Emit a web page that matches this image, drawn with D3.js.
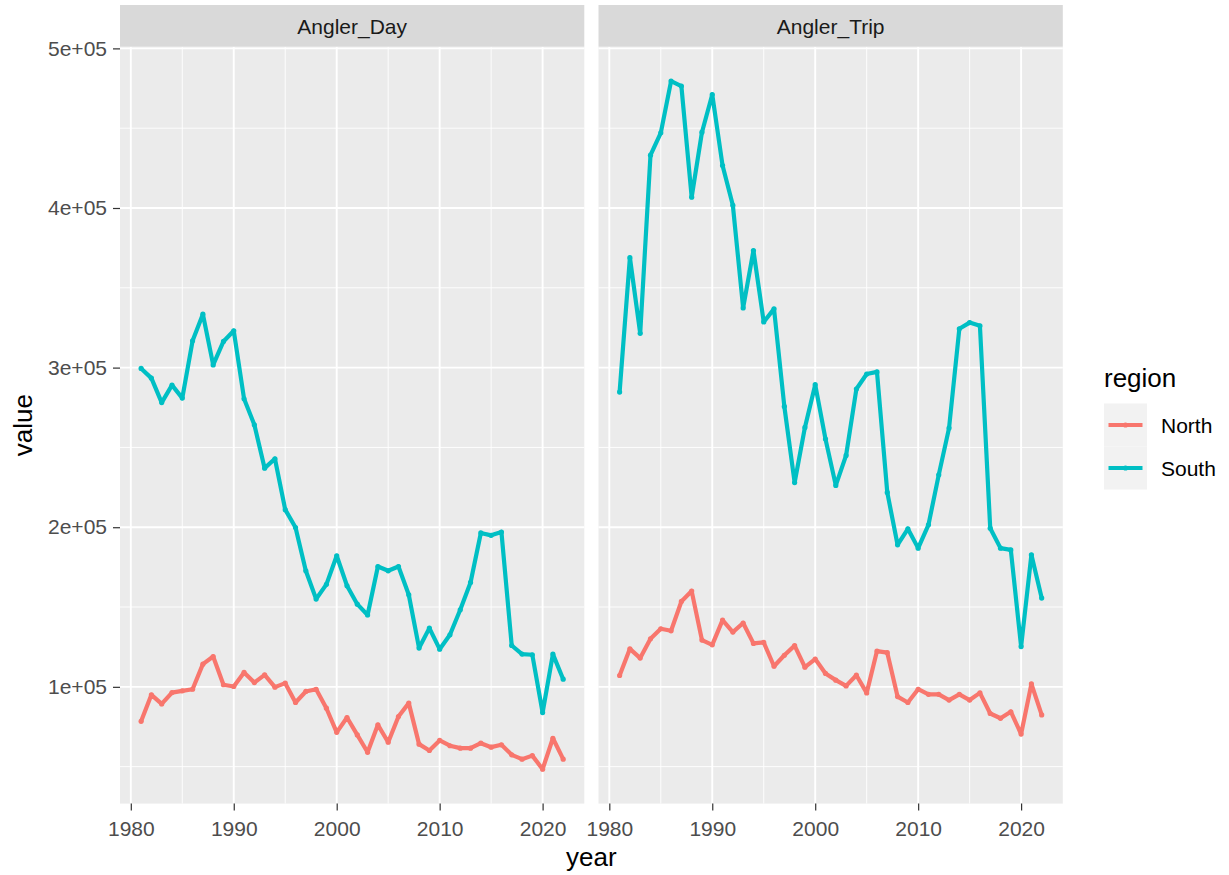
<!DOCTYPE html>
<html>
<head>
<meta charset="utf-8">
<script src="https://cdn.jsdelivr.net/npm/d3@7"></script>
<style>
  html, body { margin: 0; padding: 0; background: #ffffff; }
  svg { display: block; font-family: "Liberation Sans", Arial, Helvetica, sans-serif; }
</style>
</head>
<body>
<svg id="chart" width="1229" height="875"></svg>
<script>
// ---------------- data ----------------
const years = [1981,1982,1983,1984,1985,1986,1987,1988,1989,1990,
               1991,1992,1993,1994,1995,1996,1997,1998,1999,2000,
               2001,2002,2003,2004,2005,2006,2007,2008,2009,2010,
               2011,2012,2013,2014,2015,2016,2017,2018,2019,2020,
               2021,2022];
const facets = ["Angler_Day", "Angler_Trip"];
const regions = ["North", "South"];

const dayNorth = [78400,95000,89300,96400,97500,98500,114200,119000,101300,100200,
                  109000,102700,107500,99800,102300,90200,97100,98500,86600,71500,
                  80800,69900,59000,76200,65300,81400,89800,64100,60100,66400,
                  63100,61600,61600,64700,62200,63700,57400,54700,56900,48400,
                  67800,54700];
const daySouth = [299500,293400,278100,289000,280900,316800,333500,301700,316400,323100,
                  280500,264200,237000,242900,211000,199800,172700,155000,164200,182100,
                  163300,151800,145000,175400,172700,175400,157700,124300,136800,123600,
                  132600,148300,165400,196400,194900,197000,125900,120500,120100,83900,
                  120500,104800];
const tripNorth = [107100,123800,118000,130100,136400,135100,153500,160000,129300,126300,
                   141800,134300,140000,127200,127800,112900,119800,125800,112300,117400,
                   108400,104200,100600,107300,96200,122400,121400,93900,90200,98500,
                   95300,95300,91700,95300,91700,96200,83300,80300,84400,70400,
                   101800,82400];
const tripSouth = [284700,368900,321500,433100,447100,479500,476400,406800,447500,471100,
                   426600,401700,337400,373300,328600,336800,275700,228000,262500,289300,
                   255200,226200,245000,286600,296000,297300,221800,189000,199000,186900,
                   201500,232800,262100,324300,328200,326200,199400,186900,185800,125200,
                   182700,155600];

const xTicks = [1980, 1990, 2000, 2010, 2020];
const xMinor = [1985, 1995, 2005, 2015];
const yTicks = [100000, 200000, 300000, 400000, 500000];
const yMinor = [50000, 150000, 250000, 350000, 450000];
const yTickLabels = ["1e+05", "2e+05", "3e+05", "4e+05", "5e+05"];
const colors = ["#F8766D", "#00BFC4"];

// ---------------- layout ----------------
const svg = d3.select("#chart");
const panelTop = 46.7, panelBottom = 803.6;
const panels = [{x0: 120, x1: 584.3}, {x0: 598.5, x1: 1062.8}];
const stripTop = 5;
const smallFont = 21, titleFont = 26;

const seriesByFacet = {
  "Angler_Day": {"North": dayNorth, "South": daySouth},
  "Angler_Trip": {"North": tripNorth, "South": tripSouth}
};

// ggplot-style 5% expansion
const allVals = [].concat(dayNorth, daySouth, tripNorth, tripSouth);
const yExt = d3.extent(allVals);
const yPad = (yExt[1] - yExt[0]) * 0.05;
const xExt = d3.extent(years);
const xPad = (xExt[1] - xExt[0]) * 0.05;

const y = d3.scaleLinear().domain([yExt[0] - yPad, yExt[1] + yPad]).range([panelBottom, panelTop]);
const colorScale = d3.scaleOrdinal().domain(regions).range(colors);

facets.forEach((f, i) => {
  const p = panels[i];
  const x = d3.scaleLinear().domain([xExt[0] - xPad, xExt[1] + xPad]).range([p.x0, p.x1]);
  const g = svg.append("g");

  // panel background
  g.append("rect").attr("x", p.x0).attr("y", panelTop)
    .attr("width", p.x1 - p.x0).attr("height", panelBottom - panelTop)
    .attr("fill", "#EBEBEB");

  // minor grid
  g.selectAll(".ymin").data(yMinor).enter().append("line")
    .attr("x1", p.x0).attr("x2", p.x1)
    .attr("y1", d => y(d)).attr("y2", d => y(d))
    .attr("stroke", "#ffffff").attr("stroke-width", 0.9);
  g.selectAll(".xmin").data(xMinor).enter().append("line")
    .attr("y1", panelTop).attr("y2", panelBottom)
    .attr("x1", d => x(d)).attr("x2", d => x(d))
    .attr("stroke", "#ffffff").attr("stroke-width", 0.9);
  // major grid
  g.selectAll(".ymaj").data(yTicks).enter().append("line")
    .attr("x1", p.x0).attr("x2", p.x1)
    .attr("y1", d => y(d)).attr("y2", d => y(d))
    .attr("stroke", "#ffffff").attr("stroke-width", 1.9);
  g.selectAll(".xmaj").data(xTicks).enter().append("line")
    .attr("y1", panelTop).attr("y2", panelBottom)
    .attr("x1", d => x(d)).attr("x2", d => x(d))
    .attr("stroke", "#ffffff").attr("stroke-width", 1.9);

  // strip
  g.append("rect").attr("x", p.x0).attr("y", stripTop)
    .attr("width", p.x1 - p.x0).attr("height", panelTop - stripTop)
    .attr("fill", "#D9D9D9");
  g.append("text").attr("x", (p.x0 + p.x1) / 2).attr("y", (stripTop + panelTop) / 2 + 0.5)
    .attr("dy", "0.36em").attr("text-anchor", "middle")
    .attr("font-size", smallFont).attr("fill", "#1A1A1A").text(f);

  // lines and points
  regions.forEach(r => {
    const vals = seriesByFacet[f][r];
    const pts = years.map((yr, k) => [yr, vals[k]]);
    const line = d3.line().x(d => x(d[0])).y(d => y(d[1]));
    g.append("path").datum(pts).attr("d", line)
      .attr("fill", "none").attr("stroke", colorScale(r))
      .attr("stroke-width", 4.2).attr("stroke-linejoin", "round").attr("stroke-linecap", "butt");
    g.selectAll(".pt-" + r).data(pts).enter().append("circle")
      .attr("cx", d => x(d[0])).attr("cy", d => y(d[1])).attr("r", 2.6)
      .attr("fill", colorScale(r));
  });

  // x axis
  const xAxis = d3.axisBottom(x).tickValues(xTicks).tickFormat(d3.format("d"))
    .tickSize(7).tickPadding(10.5);
  const xa = g.append("g").attr("transform", `translate(0,${panelBottom})`).call(xAxis);
  xa.select(".domain").remove();
  xa.selectAll(".tick line").attr("stroke", "#333333").attr("stroke-width", 1.2);
  xa.selectAll(".tick text").attr("font-size", smallFont).attr("fill", "#4D4D4D")
    .attr("font-family", "Liberation Sans, Arial, sans-serif");

  if (i === 0) {
    const yAxis = d3.axisLeft(y).tickValues(yTicks)
      .tickFormat((d, k) => yTickLabels[k]).tickSize(7).tickPadding(6);
    const ya = g.append("g").attr("transform", `translate(${p.x0},0)`).call(yAxis);
    ya.select(".domain").remove();
    ya.selectAll(".tick line").attr("stroke", "#333333").attr("stroke-width", 1.2);
    ya.selectAll(".tick text").attr("font-size", smallFont).attr("fill", "#4D4D4D")
      .attr("font-family", "Liberation Sans, Arial, sans-serif");
  }
});

// axis titles
svg.append("text").attr("x", (panels[0].x0 + panels[1].x1) / 2).attr("y", 866)
  .attr("text-anchor", "middle").attr("font-size", titleFont).attr("fill", "#000000").text("year");
svg.append("text").attr("transform", `translate(32,${(panelTop + panelBottom) / 2}) rotate(-90)`)
  .attr("text-anchor", "middle").attr("font-size", titleFont).attr("fill", "#000000").text("value");

// legend
const lg = svg.append("g");
lg.append("text").attr("x", 1104).attr("y", 387).attr("font-size", titleFont).attr("fill", "#000000").text("region");
regions.forEach((r, k) => {
  const top = 403.5 + k * 43;
  lg.append("rect").attr("x", 1104).attr("y", top).attr("width", 43).attr("height", 43).attr("fill", "#F2F2F2");
  lg.append("line").attr("x1", 1108.5).attr("x2", 1142.5).attr("y1", top + 21.5).attr("y2", top + 21.5)
    .attr("stroke", colorScale(r)).attr("stroke-width", 4.2);
  lg.append("circle").attr("cx", 1125.5).attr("cy", top + 21.5).attr("r", 2.6).attr("fill", colorScale(r));
  lg.append("text").attr("x", 1161).attr("y", top + 21.5).attr("dy", "0.36em")
    .attr("font-size", smallFont).attr("fill", "#000000").text(r);
});
</script>
</body>
</html>
